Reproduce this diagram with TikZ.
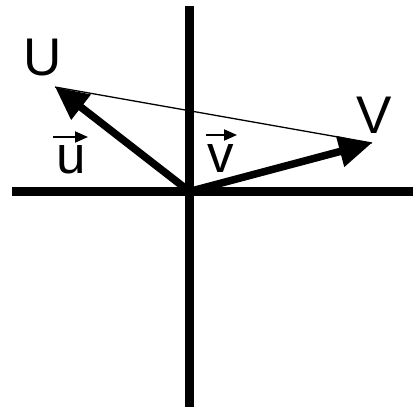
\documentclass[tikz,border=0pt]{standalone}
\usepackage{fontspec}
\setmainfont{Liberation Sans}
\usetikzlibrary{arrows.meta}
\begin{document}
\begin{tikzpicture}[x=1pt,y=-1pt,
  axis/.style={line width=9pt},
  vecarrow/.style={line width=7.5pt,-{Triangle[length=33pt,width=30pt]}},
  chord/.style={line width=1.3pt},
  biglabel/.style={inner sep=0pt,anchor=base,font=\fontsize{53}{53}\selectfont},
  smallarrow/.style={line width=2pt,-{Triangle[length=13pt,width=11pt]}}]
\useasboundingbox (0,0) rectangle (418,410);
\coordinate (O) at (189.5,191.5);
\coordinate (Ytop) at (189.5,6);
\coordinate (Ybot) at (189.5,407);
\coordinate (Xl) at (12,191.5);
\coordinate (Xr) at (413,191.5);
\coordinate (Utip) at (55,87);
\coordinate (Vtip) at (372,143);
\draw[axis] (Ytop) -- (Ybot);
\draw[axis] (Xl) -- (Xr);
\draw[chord] (Utip) -- (Vtip);
\draw[vecarrow] (O) -- (Utip);
\draw[vecarrow] (O) -- (Vtip);
\node[biglabel] (Ulab) at (42.5,75) {U};
\node[biglabel] (Vlab) at (374,133) {V};
\node[biglabel] (ulab) at (71,173) {u};
\node[biglabel] (vlab) at (221,172) {v};
\coordinate (ua) at (53,137);
\coordinate (ub) at (88,137);
\coordinate (va) at (206,135);
\coordinate (vb) at (237,135);
\draw[smallarrow] (ua) -- (ub);
\draw[smallarrow] (va) -- (vb);
\end{tikzpicture}
\end{document}
